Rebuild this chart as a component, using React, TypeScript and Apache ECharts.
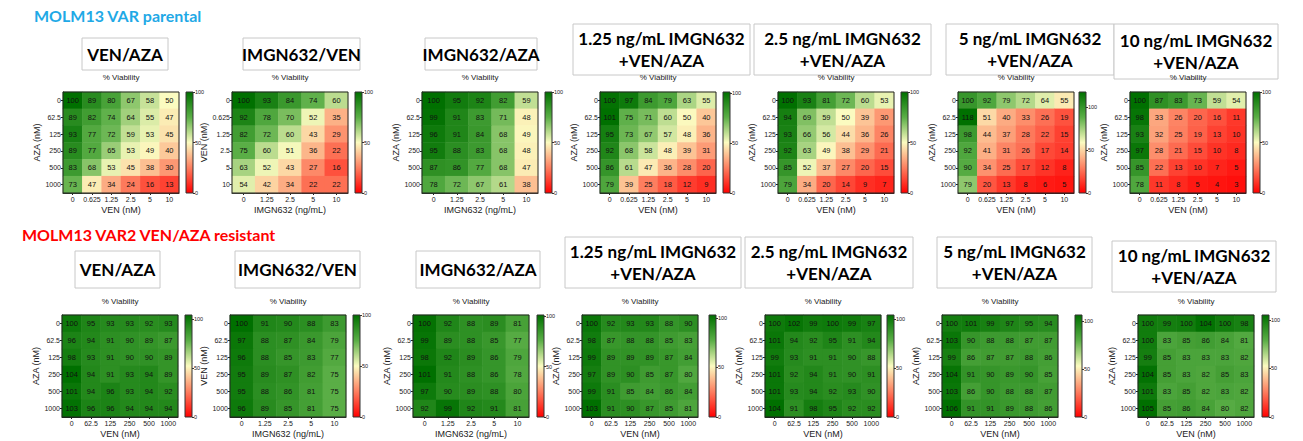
import React, { useEffect, useRef } from 'react';
import * as echarts from 'echarts';

// ---------- categories ----------
const AZA_CATS = ['0', '62.5', '125', '250', '500', '1000'];
const VEN_P_CATS = ['0', '0.625', '1.25', '2.5', '5', '10'];
const VEN_R_CATS = ['0', '62.5', '125', '250', '500', '1000'];
const IMGN_CATS = ['0', '1.25', '2.5', '5', '10'];

const TOP_TITLE = 'MOLM13 VAR parental';
const BOTTOM_TITLE = 'MOLM13 VAR2 VEN/AZA resistant';
const SUBTITLE = '% Viability';
const COLORBAR_TICKS = [0, 50, 100];

// ---------- parental (rows = y categories top->bottom, cols = x categories) ----------
const P_VEN_AZA = [
  [100, 89, 80, 67, 58, 50],
  [89, 82, 74, 64, 55, 47],
  [93, 77, 72, 59, 53, 45],
  [89, 77, 65, 53, 49, 40],
  [83, 68, 53, 45, 38, 30],
  [73, 47, 34, 24, 16, 13],
];
const P_IMGN_VEN = [
  [100, 93, 84, 74, 60],
  [92, 78, 70, 52, 35],
  [82, 72, 60, 43, 29],
  [75, 60, 51, 36, 22],
  [63, 52, 43, 27, 16],
  [54, 42, 34, 22, 22],
];
const P_IMGN_AZA = [
  [100, 95, 92, 82, 59],
  [99, 91, 83, 71, 48],
  [96, 91, 84, 68, 49],
  [95, 88, 83, 68, 48],
  [87, 86, 77, 68, 47],
  [78, 72, 67, 61, 38],
];
const P_125 = [
  [100, 97, 84, 79, 63, 55],
  [101, 75, 71, 60, 50, 40],
  [95, 73, 67, 57, 48, 36],
  [92, 68, 58, 48, 39, 31],
  [86, 61, 47, 36, 28, 20],
  [79, 39, 25, 18, 12, 9],
];
const P_25 = [
  [100, 93, 81, 72, 60, 53],
  [94, 69, 59, 50, 39, 30],
  [93, 66, 56, 44, 36, 26],
  [92, 63, 49, 38, 29, 21],
  [85, 52, 37, 27, 20, 15],
  [79, 34, 20, 14, 9, 7],
];
const P_5 = [
  [100, 92, 79, 72, 64, 55],
  [118, 51, 40, 33, 26, 19],
  [98, 44, 37, 28, 22, 15],
  [92, 41, 31, 26, 17, 14],
  [90, 34, 25, 17, 12, 8],
  [79, 20, 13, 8, 6, 5],
];
const P_10 = [
  [100, 87, 83, 73, 59, 54],
  [98, 33, 26, 20, 16, 11],
  [93, 32, 25, 19, 13, 10],
  [97, 28, 21, 15, 10, 8],
  [85, 22, 13, 10, 7, 5],
  [78, 11, 8, 5, 4, 3],
];

// ---------- resistant ----------
const R_VEN_AZA = [
  [100, 95, 93, 93, 92, 93],
  [96, 94, 91, 90, 89, 87],
  [98, 93, 91, 90, 90, 89],
  [104, 94, 91, 93, 94, 89],
  [101, 94, 96, 93, 94, 92],
  [103, 96, 96, 94, 94, 94],
];
const R_IMGN_VEN = [
  [100, 91, 90, 88, 83],
  [97, 88, 87, 84, 79],
  [96, 88, 85, 83, 77],
  [95, 89, 87, 82, 75],
  [95, 88, 86, 81, 75],
  [96, 89, 85, 81, 75],
];
const R_IMGN_AZA = [
  [100, 92, 88, 89, 81],
  [99, 89, 88, 85, 77],
  [98, 92, 89, 86, 79],
  [101, 91, 88, 86, 78],
  [97, 90, 89, 88, 80],
  [92, 99, 92, 91, 81],
];
const R_125 = [
  [100, 92, 93, 93, 88, 90],
  [98, 87, 88, 88, 85, 83],
  [99, 89, 89, 89, 87, 84],
  [97, 89, 90, 85, 87, 80],
  [99, 91, 85, 84, 86, 84],
  [103, 91, 90, 87, 85, 81],
];
const R_25 = [
  [100, 102, 99, 100, 99, 97],
  [101, 94, 92, 95, 91, 94],
  [99, 93, 91, 91, 90, 88],
  [101, 92, 94, 91, 90, 91],
  [101, 93, 94, 92, 93, 90],
  [104, 91, 98, 95, 92, 92],
];
const R_5 = [
  [100, 101, 99, 97, 95, 94],
  [103, 90, 88, 88, 87, 87],
  [99, 86, 87, 87, 88, 86],
  [104, 91, 90, 89, 90, 85],
  [103, 86, 90, 88, 88, 87],
  [106, 91, 91, 89, 88, 86],
];
const R_10 = [
  [100, 99, 100, 104, 100, 98],
  [100, 83, 85, 86, 84, 81],
  [99, 85, 83, 83, 83, 82],
  [104, 85, 83, 82, 85, 83],
  [101, 83, 85, 82, 83, 82],
  [105, 85, 86, 84, 80, 82],
];

const TITLES = [
  'VEN/AZA',
  'IMGN632/VEN',
  'IMGN632/AZA',
  '1.25 ng/mL IMGN632\n+VEN/AZA',
  '2.5 ng/mL IMGN632\n+VEN/AZA',
  '5 ng/mL IMGN632\n+VEN/AZA',
  '10 ng/mL IMGN632\n+VEN/AZA',
];

type Panel = {
  data: number[][];
  xCats: string[];
  yCats: string[];
  xName: string;
  yName: string;
};

const TOP_PANELS: Panel[] = [
  { data: P_VEN_AZA, xCats: VEN_P_CATS, yCats: AZA_CATS, xName: 'VEN (nM)', yName: 'AZA (nM)' },
  { data: P_IMGN_VEN, xCats: IMGN_CATS, yCats: VEN_P_CATS, xName: 'IMGN632 (ng/mL)', yName: 'VEN (nM)' },
  { data: P_IMGN_AZA, xCats: IMGN_CATS, yCats: AZA_CATS, xName: 'IMGN632 (ng/mL)', yName: 'AZA (nM)' },
  { data: P_125, xCats: VEN_P_CATS, yCats: AZA_CATS, xName: 'VEN (nM)', yName: 'AZA (nM)' },
  { data: P_25, xCats: VEN_P_CATS, yCats: AZA_CATS, xName: 'VEN (nM)', yName: 'AZA (nM)' },
  { data: P_5, xCats: VEN_P_CATS, yCats: AZA_CATS, xName: 'VEN (nM)', yName: 'AZA (nM)' },
  { data: P_10, xCats: VEN_P_CATS, yCats: AZA_CATS, xName: 'VEN (nM)', yName: 'AZA (nM)' },
];
const BOTTOM_PANELS: Panel[] = [
  { data: R_VEN_AZA, xCats: VEN_R_CATS, yCats: AZA_CATS, xName: 'VEN (nM)', yName: 'AZA (nM)' },
  { data: R_IMGN_VEN, xCats: IMGN_CATS, yCats: VEN_R_CATS, xName: 'IMGN632 (ng/mL)', yName: 'VEN (nM)' },
  { data: R_IMGN_AZA, xCats: IMGN_CATS, yCats: AZA_CATS, xName: 'IMGN632 (ng/mL)', yName: 'AZA (nM)' },
  { data: R_125, xCats: VEN_R_CATS, yCats: AZA_CATS, xName: 'VEN (nM)', yName: 'AZA (nM)' },
  { data: R_25, xCats: VEN_R_CATS, yCats: AZA_CATS, xName: 'VEN (nM)', yName: 'AZA (nM)' },
  { data: R_5, xCats: VEN_R_CATS, yCats: AZA_CATS, xName: 'VEN (nM)', yName: 'AZA (nM)' },
  { data: R_10, xCats: VEN_R_CATS, yCats: AZA_CATS, xName: 'VEN (nM)', yName: 'AZA (nM)' },
];

// ---------- layout (positions only) ----------
const ROWS = [
  {
    gridX: [63, 232, 422, 600, 778, 958, 1130],
    cbX: [186, 355, 545, 723, 901, 1079, 1253],
    top: 92, height: 101, width: 116,
    subY: 77,
    boxes: [
      [82, 38, 86, 32], [243, 38, 117, 32], [425, 38, 112, 32],
      [573, 24, 177, 51], [754, 24, 177, 51], [946, 24, 168, 51], [1114, 24, 164, 55],
    ],
    header: { text: TOP_TITLE, x: 34, y: 17, color: '#1fa9e6' },
  },
  {
    gridX: [62, 230, 413, 582, 765, 942, 1138],
    cbX: [185, 353, 537, 709, 887, 1075, 1262],
    top: 315, height: 102, width: 116,
    subY: 301,
    boxes: [
      [75, 251, 85, 37], [235, 251, 125, 37], [416, 251, 124, 37],
      [565, 237, 176, 51], [745, 237, 168, 51], [937, 237, 155, 51], [1112, 241, 164, 51],
    ],
    header: { text: BOTTOM_TITLE, x: 22, y: 236, color: '#ff0000' },
  },
];

const FONT = '"Liberation Sans", Arial, sans-serif';
const TITLE_FONT = 'Lato, "Open Sans", sans-serif';
// evenly spaced colour stops from 0 to the scale maximum
const SCALE_COLORS = ['#ff0000', '#fd7f60', '#fbfbc0', '#5aae46', '#007000'];

function buildOption() {
  const grid: any[] = [];
  const xAxis: any[] = [];
  const yAxis: any[] = [];
  const series: any[] = [];
  const visualMap: any[] = [];
  const graphic: any[] = [];

  [TOP_PANELS, BOTTOM_PANELS].forEach((panels, r) => {
    const L = ROWS[r];
    graphic.push({
      type: 'text', left: L.header.x, top: L.header.y - 10,
      style: { text: L.header.text, fill: L.header.color, fontSize: 16, fontWeight: 'bold', fontFamily: TITLE_FONT },
    });
    panels.forEach((p, i) => {
      const max = Math.max(100, ...p.data.flat());
      const gx = L.gridX[i];
      const [bx, by, bw, bh] = L.boxes[i];
      graphic.push({
        type: 'rect', shape: { x: bx, y: by, width: bw, height: bh },
        style: { fill: '#fff', stroke: '#c8c8c8', lineWidth: 1 }, z: 0,
      });
      graphic.push({
        type: 'text', x: bx + bw / 2, y: by + bh / 2,
        style: {
          text: TITLES[i], align: 'center', verticalAlign: 'middle', fill: '#000',
          fontSize: 17, fontWeight: 'bold', fontFamily: TITLE_FONT, lineHeight: 22,
        },
        z: 1,
      });
      graphic.push({
        type: 'text', x: gx + L.width / 2, y: L.subY,
        style: { text: SUBTITLE, align: 'center', verticalAlign: 'middle', fill: '#222', fontSize: 8, fontFamily: FONT },
        z: 2,
      });

      // heatmap grid
      const gi = grid.length;
      grid.push({ left: gx, top: L.top, width: L.width, height: L.height, show: true, borderColor: '#222', borderWidth: 1, z: 10 });
      xAxis.push({
        type: 'category', gridIndex: gi, data: p.xCats, name: p.xName, nameLocation: 'middle', nameGap: 12,
        nameTextStyle: { fontSize: 9, fontFamily: FONT, color: '#222' },
        axisLine: { show: true, lineStyle: { color: '#222' } },
        axisTick: { show: true, alignWithLabel: true, length: 2, lineStyle: { color: '#222' } },
        axisLabel: { fontSize: 7, margin: 3, interval: 0, color: '#222', fontFamily: FONT },
        splitLine: { show: false }, splitArea: { show: false },
      });
      yAxis.push({
        type: 'category', gridIndex: gi, data: p.yCats, inverse: true, name: p.yName, nameLocation: 'middle', nameGap: 19,
        nameTextStyle: { fontSize: 9, fontFamily: FONT, color: '#222' },
        axisLine: { show: true, lineStyle: { color: '#222' } },
        axisTick: { show: true, alignWithLabel: true, length: 2, lineStyle: { color: '#222' } },
        axisLabel: { fontSize: 7, margin: 2, interval: 0, color: '#222', fontFamily: FONT },
        splitLine: { show: false }, splitArea: { show: false },
      });
      const cells: number[][] = [];
      p.data.forEach((row, yi) => row.forEach((v, xi) => cells.push([xi, yi, v])));
      series.push({
        type: 'heatmap', xAxisIndex: gi, yAxisIndex: gi, data: cells,
        label: { show: true, fontSize: 7.5, color: '#111', fontFamily: FONT, formatter: (d: any) => String(d.value[2]) },
        itemStyle: { borderWidth: 0 },
        emphasis: { disabled: true },
      });
      visualMap.push({
        type: 'continuous', show: false, seriesIndex: series.length - 1, dimension: 2,
        min: 0, max, inRange: { color: SCALE_COLORS },
      });

      // colour bar
      const ci = grid.length;
      grid.push({ left: L.cbX[i], top: L.top, width: 7, height: L.height, show: true, borderColor: '#333', borderWidth: 1, z: 10 });
      xAxis.push({ type: 'category', gridIndex: ci, data: ['c'], show: false });
      yAxis.push({
        type: 'value', gridIndex: ci, min: 0, max, position: 'right',
        axisLine: { show: false },
        axisTick: { show: true, length: 2, customValues: COLORBAR_TICKS, lineStyle: { color: '#333' } },
        axisLabel: { fontSize: 5.5, margin: 2, color: '#222', fontFamily: FONT, customValues: COLORBAR_TICKS },
        splitLine: { show: false },
      });
      const n = SCALE_COLORS.length - 1;
      series.push({
        type: 'bar', xAxisIndex: ci, yAxisIndex: ci, data: [max], barWidth: '100%', silent: true,
        itemStyle: {
          color: new echarts.graphic.LinearGradient(
            0, 0, 0, 1,
            SCALE_COLORS.map((c, k) => ({ offset: 1 - k / n, color: c })).reverse(),
          ),
        },
      });
    });
  });

  return { animation: false, backgroundColor: '#fff', grid, xAxis, yAxis, series, visualMap, graphic };
}

export default function App() {
  const ref = useRef<HTMLDivElement>(null);
  useEffect(() => {
    const chart = echarts.init(ref.current as HTMLDivElement, null, { renderer: 'svg' });
    chart.setOption(buildOption() as any);
    return () => chart.dispose();
  }, []);
  return (
    <div
      ref={ref}
      style={{ position: 'absolute', left: 0, top: 0, width: 1303, height: 441, background: '#fff' }}
    />
  );
}
